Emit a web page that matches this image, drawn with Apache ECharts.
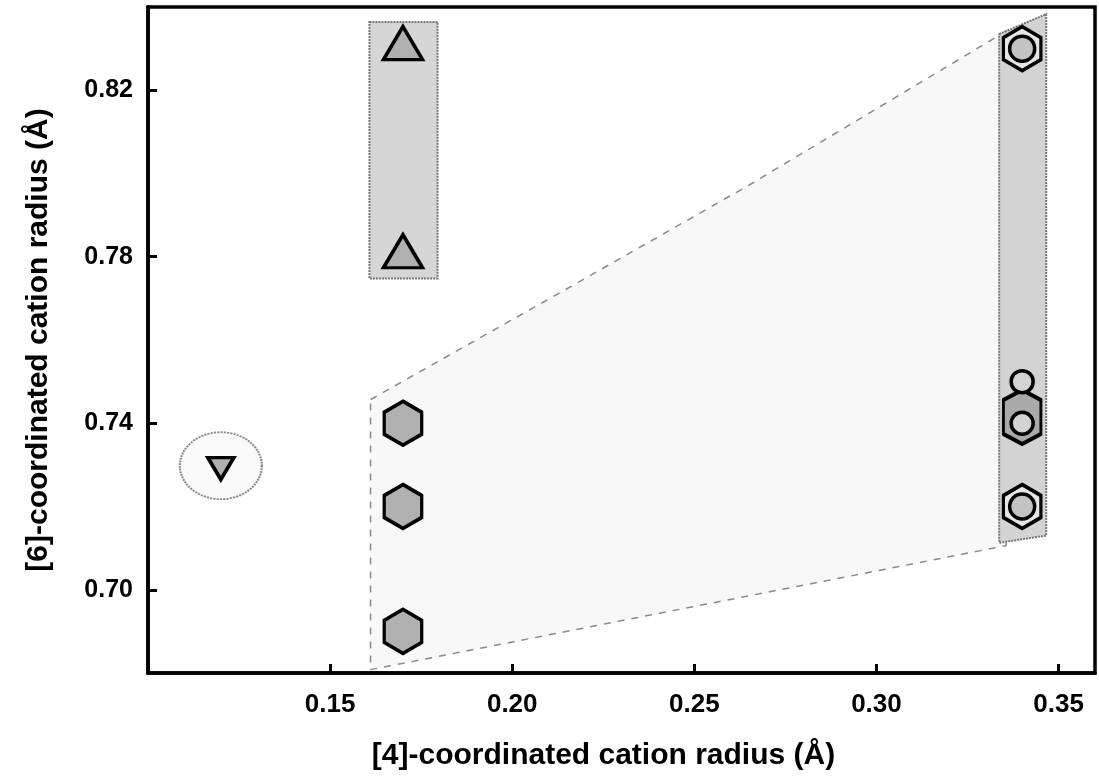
<!DOCTYPE html>
<html>
<head>
<meta charset="utf-8">
<script src="https://cdn.jsdelivr.net/npm/echarts@6/dist/echarts.min.js"></script>
<style>
html,body{margin:0;padding:0;background:#fff;}
#chart{width:1099px;height:778px;}
</style>
</head>
<body>
<div id="chart"></div>
<script>
// ---- tick labels ----
const xTicks = [0.15, 0.20, 0.25, 0.30, 0.35];
const yTicks = [0.70, 0.74, 0.78, 0.82];

// ---- marker data (x = [4]-radius, y = [6]-radius) ----
const hexX = [0.17, 0.17, 0.17];
const hexY = [0.74, 0.72, 0.69];
const triUpX = [0.17, 0.17];
const triUpY = [0.83, 0.78];
const triDownX = [0.12];
const triDownY = [0.73];
const hexCircX = [0.34, 0.34];
const hexCircY = [0.83, 0.72];
const longHexX = [0.34];
const longHexY = [0.7415];
const circX = [0.34, 0.34];
const circY = [0.75, 0.74];

// ---- shaded fields (boundary vertices in data units) ----
const regionX = [0.1611, 0.2132, 0.2644, 0.3356, 0.3356, 0.1611];
const regionY = [0.7457, 0.7714, 0.7969, 0.8342, 0.7106, 0.6808];
const leftBoxX = [0.1608, 0.1795, 0.1795, 0.1608];
const leftBoxY = [0.8364, 0.8364, 0.7748, 0.7748];
const rightBoxX = [0.3337, 0.3466, 0.3466, 0.3337];
const rightBoxY = [0.8335, 0.8383, 0.7130, 0.7113];
const ellipseX = [0.12];
const ellipseY = [0.7298];

const zip = (xs, ys) => xs.map((x, i) => [x, ys[i]]);

function polySeries(xs, ys, style, z) {
  return {
    type: 'custom',
    coordinateSystem: 'cartesian2d',
    z: z,
    silent: true,
    data: [[xs[0], ys[0]]],
    renderItem: function (params, api) {
      const pts = xs.map((x, i) => api.coord([x, ys[i]]));
      return { type: 'polygon', shape: { points: pts }, style: style };
    }
  };
}

const HEX = 'path://M0,-1 L0.866,-0.5 L0.866,0.5 L0,1 L-0.866,0.5 L-0.866,-0.5 Z';
const LONGHEX = 'path://M0,-1.35 L0.866,-0.85 L0.866,0.85 L0,1.35 L-0.866,0.85 L-0.866,-0.85 Z';
const TRI_UP = 'path://M0,0 L1,1.732 L-1,1.732 Z';
const TRI_DN = 'path://M0,1.732 L1,0 L-1,0 Z';

const markerBase = { color: '#b0b0b0', borderColor: '#000', borderWidth: 3.5, opacity: 1 };
const labelFont = '"Liberation Sans", Arial, sans-serif';

const chart = echarts.init(document.getElementById('chart'));
chart.setOption({
  animation: false,
  backgroundColor: '#fff',
  grid: { left: 148, right: 4, top: 7, bottom: 105, show: true, borderColor: '#000', borderWidth: 3.5, backgroundColor: 'transparent' },
  xAxis: {
    type: 'value', min: 0.10, max: 0.36,
    splitLine: { show: false },
    axisLine: { lineStyle: { color: '#000', width: 3.5 } },
    axisTick: { inside: true, length: 9, lineStyle: { color: '#000', width: 3 }, customValues: xTicks },
    axisLabel: {
      customValues: xTicks, margin: 19,
      formatter: v => v.toFixed(2),
      color: '#000', fontFamily: labelFont,
      fontWeight: 'bold', fontSize: 26
    },
    name: '[4]-coordinated cation radius (Å)',
    nameLocation: 'middle', nameGap: 68,
    nameTextStyle: { color: '#000', fontFamily: labelFont, fontWeight: 'bold', fontSize: 30, padding: [0, 36, 0, 0] }
  },
  yAxis: {
    type: 'value', min: 0.68, max: 0.84,
    splitLine: { show: false },
    axisLine: { lineStyle: { color: '#000', width: 3.5 } },
    axisTick: { inside: true, length: 9, lineStyle: { color: '#000', width: 3 }, customValues: yTicks },
    axisLabel: {
      customValues: yTicks, margin: 15,
      formatter: v => v.toFixed(2),
      color: '#000', fontFamily: labelFont,
      fontWeight: 'bold', fontSize: 25
    },
    name: '[6]-coordinated cation radius (Å)',
    nameLocation: 'middle', nameGap: 94,
    nameTextStyle: { color: '#000', fontFamily: labelFont, fontWeight: 'bold', fontSize: 30 }
  },
  series: [
    polySeries(regionX, regionY, { fill: '#f8f8f8', stroke: '#8a8a8a', lineWidth: 1.5, lineDash: [7, 7] }, 1),
    polySeries(leftBoxX, leftBoxY, { fill: '#d6d6d6', stroke: '#777', lineWidth: 2, lineDash: [2, 1] }, 2),
    polySeries(rightBoxX, rightBoxY, { fill: '#d3d3d3', stroke: '#777', lineWidth: 2, lineDash: [2, 1] }, 2),
    {
      type: 'scatter', z: 3, silent: true,
      data: zip(ellipseX, ellipseY),
      symbol: 'circle', symbolSize: [82, 67],
      itemStyle: { color: '#fafafa', borderColor: '#8a8a8a', borderWidth: 2, borderType: [2, 1], opacity: 1 }
    },
    {
      type: 'scatter', z: 5, data: zip(hexX, hexY),
      symbol: HEX, symbolSize: [37.5, 44],
      itemStyle: markerBase
    },
    {
      type: 'scatter', z: 5, data: zip(triUpX, triUpY),
      symbol: TRI_UP, symbolSize: [39, 33], symbolOffset: [0, -5.5],
      itemStyle: Object.assign({}, markerBase, { borderJoin: 'miter' })
    },
    {
      type: 'scatter', z: 5, data: zip(triDownX, triDownY),
      symbol: TRI_DN, symbolSize: [26, 22], symbolOffset: [0, 3.7],
      itemStyle: Object.assign({}, markerBase, { borderJoin: 'miter' })
    },
    {
      type: 'scatter', z: 5, data: zip(hexCircX, hexCircY),
      symbol: HEX, symbolSize: [37.5, 44],
      itemStyle: { color: '#e6e6e6', borderColor: '#000', borderWidth: 3.5, opacity: 1 }
    },
    {
      type: 'scatter', z: 6, data: zip(hexCircX, hexCircY),
      symbol: 'circle', symbolSize: 25,
      itemStyle: { color: '#c4c4c4', borderColor: '#000', borderWidth: 3.5, opacity: 1 }
    },
    {
      type: 'scatter', z: 5, data: zip(longHexX, longHexY),
      symbol: LONGHEX, symbolSize: [37.5, 54],
      itemStyle: { color: '#a9a9a9', borderColor: '#000', borderWidth: 3.5, opacity: 1 }
    },
    {
      type: 'scatter', z: 6, data: zip(circX, circY),
      symbol: 'circle', symbolSize: 22,
      itemStyle: { color: '#d4d4d4', borderColor: '#000', borderWidth: 3.5, opacity: 1 }
    }
  ]
});
</script>
</body>
</html>
